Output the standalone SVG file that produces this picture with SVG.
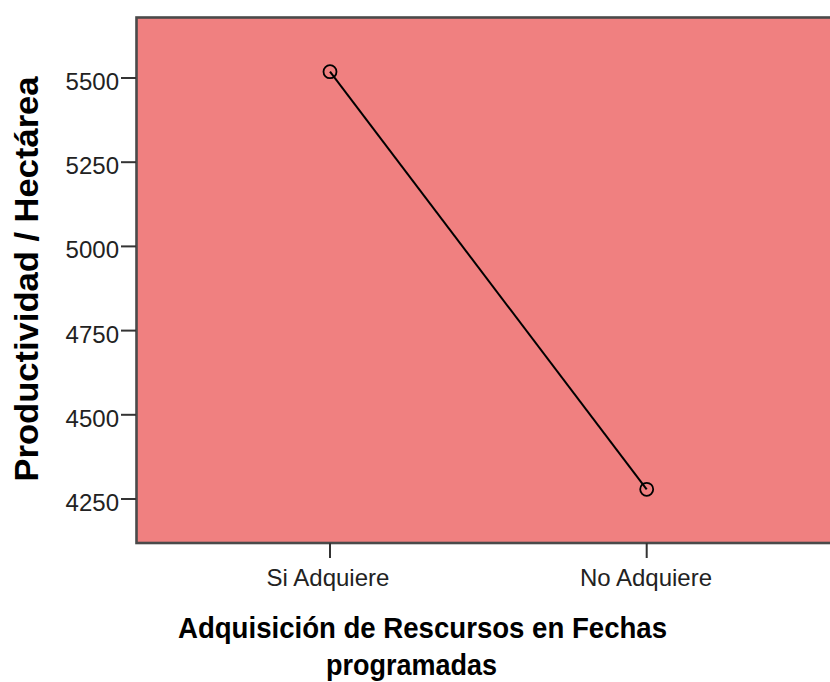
<svg xmlns="http://www.w3.org/2000/svg" width="830" height="682" viewBox="0 0 830 682">
<style>
.tick{stroke:#333;stroke-width:2;fill:none}
.lbl{font-family:"Liberation Sans",Arial,sans-serif;font-size:24px;fill:#222}
.title{font-family:"Liberation Sans",Arial,sans-serif;font-weight:bold;fill:#000}
.pt{fill:none;stroke:#000;stroke-width:1.8}
</style>
<rect x="0" y="0" width="830" height="682" fill="#fff"/>
<g id="plot-area">
<rect x="136.5" y="17.5" width="710" height="525.5" fill="#F08080" stroke="#4a4a4a" stroke-width="2.6"/>
</g>
<g id="y-axis">
<line class="tick" x1="121" y1="78" x2="136" y2="78"/>
<line class="tick" x1="121" y1="162.2" x2="136" y2="162.2"/>
<line class="tick" x1="121" y1="246.4" x2="136" y2="246.4"/>
<line class="tick" x1="121" y1="330.6" x2="136" y2="330.6"/>
<line class="tick" x1="121" y1="414.8" x2="136" y2="414.8"/>
<line class="tick" x1="121" y1="499" x2="136" y2="499"/>
<text class="lbl" x="119" y="90" text-anchor="end">5500</text>
<text class="lbl" x="119" y="174.2" text-anchor="end">5250</text>
<text class="lbl" x="119" y="258.4" text-anchor="end">5000</text>
<text class="lbl" x="119" y="342.6" text-anchor="end">4750</text>
<text class="lbl" x="119" y="426.8" text-anchor="end">4500</text>
<text class="lbl" x="119" y="511" text-anchor="end">4250</text>
<text class="title" font-size="34" transform="translate(38,481.5) rotate(-90)" textLength="405" lengthAdjust="spacingAndGlyphs">Productividad / Hectárea</text>
</g>
<g id="x-axis">
<line class="tick" x1="330" y1="543" x2="330" y2="558"/>
<line class="tick" x1="646.7" y1="543" x2="646.7" y2="558"/>
<text class="lbl" x="328" y="586" text-anchor="middle">Si Adquiere</text>
<text class="lbl" x="646" y="586" text-anchor="middle">No Adquiere</text>
<text class="title" font-size="30" x="178" y="638" textLength="489" lengthAdjust="spacingAndGlyphs">Adquisición de Rescursos en Fechas</text>
<text class="title" font-size="30" x="326" y="675" textLength="171" lengthAdjust="spacingAndGlyphs">programadas</text>
</g>
<g id="connectors">
<line x1="330" y1="71.7" x2="646.7" y2="489.3" stroke="#000" stroke-width="2"/>
</g>
<g id="point-si">
<circle class="pt" cx="330" cy="71.7" r="6.5"/>
</g>
<g id="point-no">
<circle class="pt" cx="646.7" cy="489.3" r="6.5"/>
</g>
</svg>
